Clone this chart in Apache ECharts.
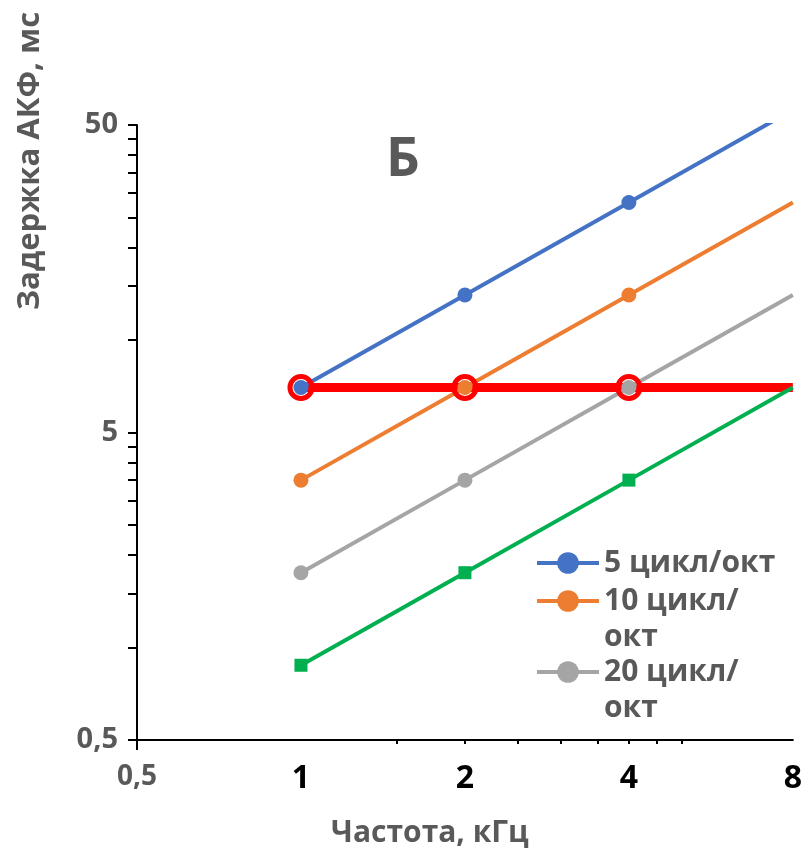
<!DOCTYPE html>
<html>
<head>
<meta charset="utf-8">
<script src="https://cdn.jsdelivr.net/npm/echarts@6/dist/echarts.min.js"></script>
<style>
    html, body { margin: 0; padding: 0; background: #fff; }
    #chart { width: 805px; height: 856px; }
</style>
</head>
<body>
<div id="chart"></div>
<script>
const freqs = [1, 2, 4, 8];
const cyc5 = [7, 14, 28, 56];
const cyc10 = [3.5, 7, 14, 28];
const cyc20 = [1.75, 3.5, 7, 14];
const cyc40 = [0.875, 1.75, 3.5, 7];
const level = [7, 7, 7, 7];

const legendNames = ['5 цикл/окт', '10 цикл/\nокт', '20 цикл/\nокт'];
const xTickLabels = [0.5, 1, 2, 4, 8];
const xTicks = [0.5, 1.5, 2, 2.5, 3, 3.5, 4, 4.5, 5];
const yTickLabels = [0.5, 5, 50];
const yTicks = [0.5, 1, 1.5, 2, 2.5, 3, 3.5, 4, 4.5, 5, 10, 15, 20, 25, 30, 35, 40, 45, 50];

const font = "'Open Sans', 'Noto Sans', sans-serif";
const grey = '#595959';

// the last point (8 kHz) has no marker in the original
function points(vals) {
    return freqs.map((f, i) => i < 3 ? [f, vals[i]] : { value: [f, vals[i]], symbol: 'none' });
}

function lineSeries(name, vals, color, symbol, size) {
    return {
        name: name,
        type: 'line',
        data: points(vals),
        symbol: symbol,
        symbolSize: size,
        showSymbol: true,
        lineStyle: { color: color, width: 4 },
        itemStyle: { color: color },
        emphasis: { disabled: true }
    };
}

function commaNum(v) {
    return String(+v.toFixed(3)).replace('.', ',');
}

let chart = echarts.init(document.getElementById('chart'));

// one legend per entry, so the wrapped names keep their icon on the first line
function legendItem(name, top) {
    return {
        orient: 'vertical',
        left: 535,
        top: top,
        padding: 0,
        itemWidth: 62,
        itemHeight: 27,
        selectedMode: false,
        data: [name],
        lineStyle: { width: 4 },
        formatter: n => n.indexOf('\n') >= 0 ? ' \n' + n : n,
        textStyle: { fontFamily: font, fontWeight: 'bold', fontSize: 30, color: grey, lineHeight: 36 }
    };
}

let option = {
    animation: false,
    title: {
        text: 'Б',
        left: 381,
        top: 129,
        textStyle: { fontFamily: font, fontWeight: 'bold', fontSize: 53, color: grey }
    },
    legend: [
        legendItem(legendNames[0], 545),
        legendItem(legendNames[1], 547),
        legendItem(legendNames[2], 618)
    ],
    grid: { left: 137, right: 12, top: 125, bottom: 116, containLabel: false },
    graphic: [{
        type: 'text',
        x: 30,
        y: 161,
        rotation: Math.PI / 2,
        style: {
            text: 'Задержка АКФ, мс',
            fontFamily: font, fontWeight: 'bold', fontSize: 31, fill: grey,
            align: 'center', verticalAlign: 'middle'
        }
    }],
    xAxis: [{
        type: 'log',
        logBase: 2,
        min: 0.5,
        max: 8,
        name: 'Частота, кГц',
        nameLocation: 'middle',
        nameGap: 78,
        nameTextStyle: { fontFamily: font, fontWeight: 'bold', fontSize: 30, color: grey, padding: [0, 70, 0, 0] },
        axisLine: { show: true, lineStyle: { color: '#000', width: 2 } },
        axisTick: { show: true, customValues: xTicks, length: 4, lineStyle: { color: '#000', width: 2 } },
        axisLabel: {
            customValues: xTickLabels,
            margin: 23,
            formatter: v => Math.abs(v - 0.5) < 1e-6 ? '{g|0,5}' : '{k|' + Math.round(v) + '}',
            rich: {
                g: { fontFamily: font, fontWeight: 'bold', fontSize: 28, color: grey },
                k: { fontFamily: font, fontWeight: 'bold', fontSize: 32, color: '#000' }
            }
        },
        splitLine: { show: false }
    }, {
        // long tick at the axis origin
        type: 'log',
        logBase: 2,
        min: 0.5,
        max: 8,
        position: 'bottom',
        axisLine: { show: false },
        axisTick: { show: true, customValues: [0.5], length: 10, lineStyle: { color: '#000', width: 2 } },
        axisLabel: { show: false },
        splitLine: { show: false }
    }],
    yAxis: {
        type: 'log',
        logBase: 10,
        min: 0.5,
        max: 50,
        axisLine: { show: true, lineStyle: { color: '#000', width: 2 } },
        axisTick: { show: true, customValues: yTicks, length: 9, lineStyle: { color: '#000', width: 2 } },
        axisLabel: {
            customValues: yTickLabels,
            margin: 19,
            formatter: v => commaNum(v),
            fontFamily: font, fontWeight: 'bold', fontSize: 29, color: grey
        },
        splitLine: { show: false }
    },
    series: [
        {
            name: 'Уровень',
            type: 'line',
            data: points(level),
            symbol: 'circle',
            symbolSize: 22,
            lineStyle: { color: '#FF0000', width: 9 },
            itemStyle: { color: 'rgba(0,0,0,0)', borderColor: '#FF0000', borderWidth: 5 },
            emphasis: { disabled: true }
        },
        lineSeries(legendNames[0], cyc5, '#4472C4', 'circle', 15),
        lineSeries(legendNames[1], cyc10, '#ED7D31', 'circle', 15),
        lineSeries(legendNames[2], cyc20, '#A5A5A5', 'circle', 15),
        lineSeries('40 цикл/окт', cyc40, '#00B050', 'rect', 13)
    ]
};

chart.setOption(option);
</script>
</body>
</html>
